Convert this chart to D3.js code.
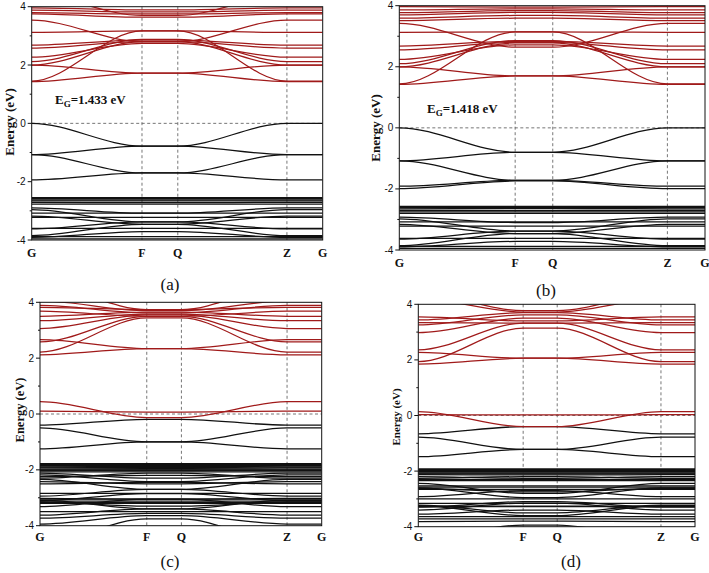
<!DOCTYPE html>
<html><head><meta charset="utf-8">
<script src="https://cdn.jsdelivr.net/npm/d3@7"></script>
<style>body{margin:0;background:#fff}</style>
</head><body><svg id="chart" width="709" height="573"></svg>
<script>
// ---------- data ----------
const kLabels = ["G", "F", "Q", "Z", "G"];
const kPos = [0, 0.379, 0.502, 0.877, 1];
const yTicks = [-4, -2, 0, 2, 4];
const yMinorTicks = [-3, -1, 1, 3];
const captions = ["(a)", "(b)", "(c)", "(d)"];
const gapValues = ["1.433", "1.418", null, null];

// each band: [energy at G (= Z, G), energy at F (= Q)]
const redA = [[1.43,1.72],[1.45,3.17],[2.00,1.72],[2.00,2.80],[2.12,2.88],[2.27,2.74],[2.58,2.80],[2.68,2.85],[3.12,3.17],[3.54,2.80],[3.75,3.64],[3.80,3.75],[3.88,3.82],[3.96,3.89],[4.40,3.70]];
const blackA = [[0,-0.78],[-1.07,-0.78],[-1.07,-1.70],[-1.94,-1.70],
  [-2.55,-2.55],[-2.58,-2.58],[-2.62,-2.62],[-2.66,-2.66],[-2.71,-2.72],[-2.77,-2.77],
  [-2.90,-3.08],[-2.96,-3.38],[-3.08,-3.08],[-3.18,-3.46],[-3.22,-3.22],
  [-3.60,-3.60],[-3.62,-3.38],[-3.85,-3.46],[-3.91,-3.71],[-3.88,-3.88],[-3.96,-3.96]];

const redB = [[1.42,1.70],[1.44,3.14],[2.00,1.70],[2.00,2.78],[2.10,2.86],[2.24,2.72],[2.55,2.80],[2.68,2.83],[3.13,3.14],[3.42,2.64],[3.51,3.59],[3.59,3.68],[3.70,3.78],[3.77,3.84],[3.86,3.90],[3.97,3.95]];
const blackB = [[0,-0.80],[-1.08,-0.80],[-1.08,-1.72],[-1.91,-1.72],[-1.99,-1.74],
  [-2.57,-2.57],[-2.61,-2.61],[-2.65,-2.64],[-2.70,-2.70],[-2.75,-2.75],[-2.80,-2.80],
  [-2.92,-3.10],[-2.98,-3.38],[-3.08,-3.08],[-3.16,-3.46],[-3.22,-3.22],
  [-3.62,-3.62],[-3.64,-3.38],[-3.86,-3.46],[-3.90,-3.72],[-3.88,-3.88],[-3.95,-3.95]];

const redC = [[0.44,-0.13],[0.10,0.07],
  [2.12,2.34],[2.22,3.44],[2.66,2.34],[2.58,3.50],[3.06,3.55],[3.34,3.58],[3.50,3.65],[3.68,3.50],[3.82,3.74],[3.89,3.62],[4.05,3.70],[4.60,3.74]];
const blackC = [[-0.40,-0.19],[-0.50,-1.00],[-1.25,-1.00],
  [-1.78,-1.78],[-1.81,-1.81],[-1.84,-1.84],[-1.87,-1.88],[-1.90,-1.92],[-1.93,-1.95],[-1.97,-1.97],[-2.00,-2.00],[-2.03,-2.03],
  [-2.07,-2.07],[-2.12,-2.30],[-2.18,-2.42],[-2.24,-2.20],[-2.30,-2.12],[-2.34,-2.70],[-2.42,-2.50],[-2.50,-2.45],
  [-2.84,-2.84],[-2.94,-2.70],[-3.02,-3.05],[-3.05,-3.05],[-3.08,-3.40],[-3.10,-2.85],[-3.12,-3.12],[-3.15,-3.30],[-3.17,-3.17],[-3.20,-3.20],[-3.32,-3.05],
  [-3.50,-3.50],[-3.62,-3.40],[-3.73,-3.56],[-3.94,-3.64],[-4.60,-3.76]];

const redD = [[0.14,-0.40],[0.03,0.02],
  [1.85,2.06],[1.94,3.14],[2.27,2.06],[2.36,3.32],[2.98,3.50],[3.26,3.62],[3.34,3.32],[3.44,3.70],[3.55,3.40],[4.40,3.77],[4.20,3.72]];
const blackD = [[-0.66,-0.40],[-0.78,-1.22],[-1.48,-1.22],
  [-1.92,-1.92],[-1.95,-1.95],[-1.98,-1.98],[-2.01,-2.01],[-2.04,-2.04],[-2.07,-2.07],[-2.10,-2.10],
  [-2.13,-2.14],[-2.20,-2.26],[-2.26,-2.20],[-2.30,-2.30],[-2.34,-2.34],
  [-2.44,-2.80],[-2.53,-2.53],[-2.58,-2.58],[-2.60,-2.95],[-2.62,-2.75],[-2.66,-2.66],
  [-2.92,-2.70],[-3.00,-3.00],[-3.16,-3.16],[-3.22,-3.50],[-3.24,-3.60],[-3.26,-3.26],[-3.28,-3.28],[-3.30,-3.10],[-3.40,-3.15],
  [-3.55,-3.40],[-3.64,-3.64],[-3.72,-3.72],[-3.82,-3.80],[-4.40,-3.94]];

// ---------- layout ----------
const panels = [
  {red: redA, black: blackA, L: 31.7, R: 322.7, T: 6.7, B: 240, xlab: 257, cap: [170, 290], ylab: [9, 122], ylabSize: 13, gap: [55, 104]},
  {red: redB, black: blackB, L: 399.3, R: 705, T: 5.7, B: 250, xlab: 267, cap: [546, 296], ylab: [375, 128], ylabSize: 13, gap: [427, 113]},
  {red: redC, black: blackC, L: 40, R: 321.7, T: 302.3, B: 525.7, xlab: 541, cap: [170, 567], ylab: [20, 410], ylabSize: 12.5, gap: null},
  {red: redD, black: blackD, L: 418.3, R: 695, T: 304.3, B: 526.7, xlab: 541, cap: [571, 567], ylab: [396, 417], ylabSize: 11, gap: null}
];

// smooth segment curve: horizontal tangent at each k-point (cubic Hermite)
function SmoothStep(context) { this._context = context; }
SmoothStep.prototype = {
  areaStart() {}, areaEnd() {},
  lineStart() { this._point = 0; },
  lineEnd() {},
  point(x, y) {
    x = +x; y = +y;
    if (this._point === 0) { this._point = 1; this._context.moveTo(x, y); }
    else {
      const dx = x - this._x0;
      this._context.bezierCurveTo(this._x0 + dx / 3, this._y0, x - dx / 3, y, x, y);
    }
    this._x0 = x; this._y0 = y;
  }
};
const smoothCurve = ctx => new SmoothStep(ctx);

const RED = "#a01a1a", BLACK = "#111";
const svg = d3.select("#chart");
const serif = "'Liberation Serif','Times New Roman',serif";
const sans = "'Liberation Sans',Arial,sans-serif";

panels.forEach((p, i) => {
  const x = d3.scaleLinear().domain([0, 1]).range([p.L, p.R]);
  const y = d3.scaleLinear().domain([-4, 4]).range([p.B, p.T]);
  const g = svg.append("g");
  const clipId = "clip" + i;
  svg.append("clipPath").attr("id", clipId).append("rect")
    .attr("x", p.L).attr("y", p.T).attr("width", p.R - p.L).attr("height", p.B - p.T);

  // dashed guides
  g.selectAll("line.v").data(kPos.slice(1, 4)).join("line")
    .attr("x1", d => x(d)).attr("x2", d => x(d)).attr("y1", p.T).attr("y2", p.B)
    .attr("stroke", "#666").attr("stroke-width", 0.9).attr("stroke-dasharray", "3,2.5");
  g.append("line").attr("x1", p.L).attr("x2", p.R).attr("y1", y(0)).attr("y2", y(0))
    .attr("stroke", "#666").attr("stroke-width", 0.9).attr("stroke-dasharray", "3,2.5");

  const line = d3.line().x(d => x(d[0])).y(d => y(d[1])).curve(smoothCurve);
  const toPts = b => [b[0], b[1], b[1], b[0], b[0]].map((e, j) => [kPos[j], e]);
  const bands = g.append("g").attr("clip-path", `url(#${clipId})`).attr("fill", "none");
  bands.selectAll("path.b").data(p.black).join("path")
    .attr("d", b => line(toPts(b))).attr("stroke", BLACK).attr("stroke-width", 1.25);
  bands.selectAll("path.r").data(p.red).join("path")
    .attr("d", b => line(toPts(b))).attr("stroke", RED).attr("stroke-width", 1.25);

  // frame
  g.append("rect").attr("x", p.L).attr("y", p.T).attr("width", p.R - p.L).attr("height", p.B - p.T)
    .attr("fill", "none").attr("stroke", "#111").attr("stroke-width", 1);

  // y ticks
  g.selectAll("line.mj").data(yTicks).join("line")
    .attr("x1", p.L - 4).attr("x2", p.L).attr("y1", d => y(d)).attr("y2", d => y(d))
    .attr("stroke", "#111");
  g.selectAll("line.mn").data(yMinorTicks).join("line")
    .attr("x1", p.L - 2).attr("x2", p.L).attr("y1", d => y(d)).attr("y2", d => y(d))
    .attr("stroke", "#111");
  g.selectAll("text.yt").data(yTicks).join("text")
    .attr("x", p.L - 6).attr("y", d => y(d)).attr("dy", "0.35em")
    .attr("text-anchor", "end").attr("font-family", sans).attr("font-size", 10).attr("fill", "#111")
    .text(d => d);

  // k labels
  g.selectAll("text.k").data(kLabels).join("text")
    .attr("x", (d, j) => x(kPos[j])).attr("y", p.xlab)
    .attr("text-anchor", "middle").attr("font-family", serif).attr("font-weight", "bold")
    .attr("font-size", 12).attr("fill", "#111").text(d => d);

  // y label
  g.append("text").attr("transform", `translate(${p.ylab[0]},${p.ylab[1]}) rotate(-90)`)
    .attr("text-anchor", "middle").attr("dy", "0.35em").attr("font-family", serif)
    .attr("font-weight", "bold").attr("font-size", p.ylabSize).attr("fill", "#111")
    .text("Energy (eV)");

  // caption
  g.append("text").attr("x", p.cap[0]).attr("y", p.cap[1]).attr("text-anchor", "middle")
    .attr("font-family", serif).attr("font-size", 17).attr("fill", "#111").text(captions[i]);

  // band gap annotation
  if (p.gap && gapValues[i]) {
    const t = g.append("text").attr("x", p.gap[0]).attr("y", p.gap[1])
      .attr("font-family", serif).attr("font-weight", "bold").attr("font-size", 13).attr("fill", "#111");
    t.append("tspan").text("E");
    t.append("tspan").attr("font-size", 9).attr("dy", 3).text("G");
    t.append("tspan").attr("dy", -3).text("=" + gapValues[i] + " eV");
  }
});
</script></body></html>
